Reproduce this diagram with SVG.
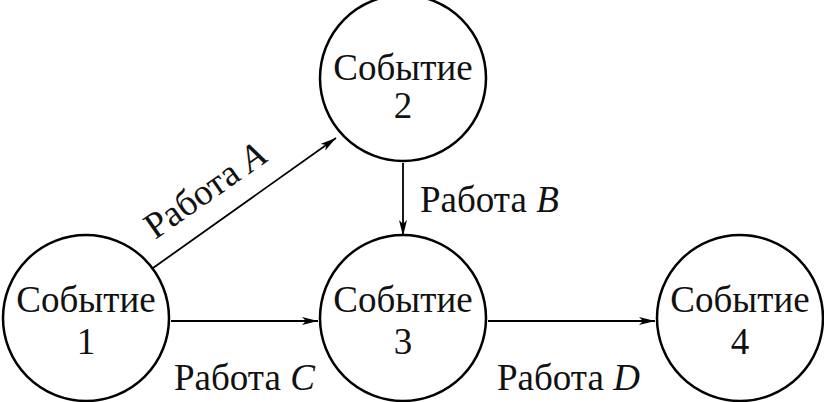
<svg xmlns="http://www.w3.org/2000/svg" width="824" height="402" viewBox="0 0 824 402">
<style>
circle{fill:#fff;stroke:#000;stroke-width:2.5}
text{font-family:"Liberation Serif",serif;font-size:37px;fill:#111}
.c{text-anchor:middle}
line{stroke:#000;stroke-width:1.8;marker-end:url(#a)}
</style>
<defs><marker id="a" viewBox="0 0 16 8" refX="16" refY="4" markerWidth="16" markerHeight="8" markerUnits="userSpaceOnUse" orient="auto"><path d="M0,0L16,4L0,8L4,4Z" fill="#000"/></marker></defs>
<rect width="824" height="402" fill="#fff"/>
<g id="edges">
<line x1="153" y1="268" x2="336" y2="138"/>
<line x1="403" y1="163" x2="403" y2="236"/>
<line x1="171" y1="321" x2="318" y2="321"/>
<line x1="488" y1="321" x2="655" y2="321"/>
<text transform="translate(155,240) rotate(-35)">Работа <tspan font-style="italic">A</tspan></text>
<text x="420" y="212">Работа <tspan font-style="italic">B</tspan></text>
<text x="174" y="390">Работа <tspan font-style="italic">C</tspan></text>
<text x="497" y="390">Работа <tspan font-style="italic">D</tspan></text>
</g>
<g id="n1"><circle cx="86" cy="318" r="83"/><text class="c" x="86" y="312">Событие</text><text class="c" x="86" y="354">1</text></g>
<g id="n2"><circle cx="403" cy="78" r="83"/><text class="c" x="403" y="80">Событие</text><text class="c" x="403" y="118">2</text></g>
<g id="n3"><circle cx="403" cy="318" r="83"/><text class="c" x="403" y="312">Событие</text><text class="c" x="403" y="354">3</text></g>
<g id="n4"><circle cx="740" cy="318" r="83"/><text class="c" x="740" y="312">Событие</text><text class="c" x="740" y="354">4</text></g>
</svg>
